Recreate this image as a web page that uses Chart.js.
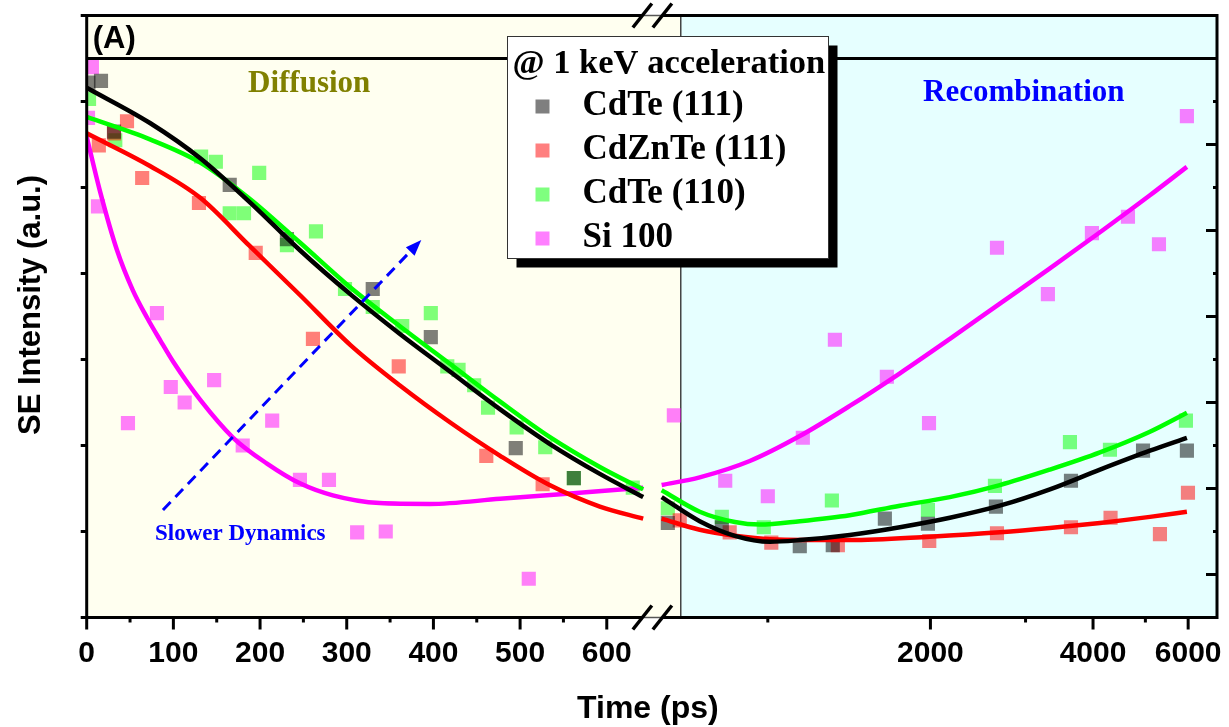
<!DOCTYPE html>
<html>
<head>
<meta charset="utf-8">
<title>SE intensity vs time</title>
<script src="https://cdn.jsdelivr.net/npm/chart.js@4.4.0/dist/chart.umd.min.js"></script>
<style>
  html, body { margin: 0; padding: 0; background: #ffffff; }
  #wrap { width: 1229px; height: 727px; }
</style>
</head>
<body>
<div id="wrap"><canvas id="sechart" width="1229" height="727"></canvas></div>
<script>
// axis ticks
var earlyTicks = [0, 100, 200, 300, 400, 500, 600];
var earlyMinorTicks = [50, 150, 250, 350, 450, 550];
var lateTicks = [2000, 4000, 6000];
var lateMinorTicks = [1000, 3000, 5000];
var leftAxisTicks = [0, 1, 2, 3, 4, 5, 6, 7];
var rightAxisMajor = [0.5, 1.5, 2.5, 3.5, 4.5, 5.5];
var rightAxisMinor = [1, 2, 3, 4, 5, 6];

var earlyMax = 652;
var lateMin = 610;
var lateMax = 6785;
var phaseBoundary = 690;
var bandLevel = 6.5;

var seriesNames = ['CdTe (111)', 'CdZnTe (111)', 'CdTe (110)', 'Si 100'];
var markerColours = ['rgba(0,0,0,0.5)', 'rgba(255,0,0,0.5)', 'rgba(0,255,0,0.5)', 'rgba(255,0,255,0.5)'];
var lineColours = ['#000000', '#ff0000', '#00ff00', '#ff00ff'];

// measured points, [time ps, SE intensity]
var cdte111Early = [[2,6.22],[16.5,6.24],[31.5,5.65],[165,5.03],[231,4.40],[330,3.82],[397,3.26],[495,1.97],[562,1.62]];
var cdte111Late = [[653,1.10],[822,1.05],[1146,0.83],[1319,0.84],[1647,1.15],[1979,1.09],[2644,1.29],[3641,1.59],[4950,1.94],[5968,1.94]];

var cdznteEarly = [[14,5.49],[31.5,5.63],[46.5,5.77],[64,5.11],[129.5,4.82],[195,4.24],[261,3.24],[360,2.92],[461,1.88],[526,1.55]];
var cdznteLate = [[687,1.13],[850,0.99],[1015,0.87],[1348,0.84],[1990,0.89],[2656,0.98],[3641,1.05],[4310,1.16],[5320,0.97],[5995,1.45]];

var cdte110Early = [[2.7,6.03],[33,5.55],[132,5.36],[149,5.30],[199,5.17],[165,4.70],[181.5,4.70],[231,4.33],[264.5,4.49],[298,3.82],[330,3.61],[364,3.39],[397,3.54],[416,2.92],[429,2.88],[447,2.70],[463,2.44],[496,2.21],[529,1.98],[562,1.62],[630,1.51]];
var cdte110Late = [[653,1.27],[822,1.17],[983,1.05],[1314,1.36],[1979,1.25],[2633,1.53],[3625,2.04],[4299,1.95],[5943,2.29]];

var si100Early = [[6,6.40],[1.5,5.81],[13,4.78],[81,3.54],[47.6,2.26],[97,2.68],[113,2.50],[147,2.76],[180,2.00],[214,2.29],[246,1.60],[279.5,1.60],[312,0.99],[345,1.00],[510,0.45]];
var si100Late = [[670,2.35],[834,1.59],[1000,1.41],[1161,2.09],[1331,3.23],[1661,2.80],[1988,2.26],[2656,4.30],[3300,3.76],[3981,4.47],[4642,4.66],[5298,4.34],[5968,5.83]];

// fitted curves
var cdte111FitEarly = [[0,6.16],[73,5.75],[131,5.34],[188,4.83],[246,4.27],[304,3.76],[361,3.30],[419,2.86],[477,2.42],[534,2.02],[592,1.67],[642,1.40]];
var cdte111FitLate = [[636,1.40],[748,1.12],[869,0.95],[1009,0.88],[1146,0.90],[1418,0.96],[1756,1.05],[2173,1.16],[2689,1.30],[3328,1.49],[4120,1.72],[5098,1.94],[5968,2.09]];

var cdznteFitEarly = [[0,5.63],[73,5.25],[131,4.88],[188,4.32],[246,3.75],[304,3.17],[361,2.70],[419,2.27],[477,1.88],[534,1.54],[592,1.29],[642,1.15]];
var cdznteFitLate = [[636,1.15],[748,1.02],[869,0.95],[1009,0.91],[1418,0.90],[1995,0.94],[2689,0.99],[3328,1.04],[4120,1.10],[5098,1.17],[5968,1.23]];

var cdte110FitEarly = [[0,5.82],[73,5.56],[131,5.29],[188,4.87],[246,4.36],[304,3.84],[361,3.39],[419,2.95],[477,2.51],[534,2.10],[592,1.75],[642,1.49]];
var cdte110FitLate = [[636,1.48],[748,1.23],[869,1.11],[966,1.08],[1146,1.12],[1418,1.19],[1756,1.30],[2173,1.40],[2689,1.54],[3328,1.72],[4120,1.92],[5098,2.16],[5968,2.38]];

var si100FitEarly = [[0,5.59],[15,4.97],[35,4.27],[53,3.81],[70,3.48],[85,3.22],[100,2.97],[131,2.53],[169,2.09],[208,1.79],[246,1.56],[284,1.42],[338,1.33],[396,1.32],[477,1.38],[554,1.44],[642,1.51]];
var si100FitLate = [[636,1.54],[748,1.63],[926,1.82],[1146,2.11],[1418,2.46],[1756,2.84],[2173,3.24],[2689,3.65],[3328,4.06],[4120,4.48],[5098,4.91],[5968,5.24]];

// annotation arrow, [time ps, intensity]
var arrowFrom = [88, 1.25];
var arrowTo = [386, 4.39];

var fontSans = "'Liberation Sans', Arial, sans-serif";
var fontSerif = "'Liberation Serif', 'Times New Roman', serif";

function toXY(pairs) {
    return pairs.map(function(p){ return {x: p[0], y: p[1]}; });
}

function scatterSet(i, data, axis) {
    return {
        type: 'scatter', label: seriesNames[i], data: toXY(data),
        xAxisID: axis, yAxisID: 'y',
        pointStyle: 'rect', pointRadius: 10, pointHoverRadius: 10,
        pointBackgroundColor: markerColours[i], backgroundColor: markerColours[i],
        pointBorderWidth: 0, borderWidth: 0, order: 2
    };
}

function fitSet(i, data, axis) {
    return {
        type: 'line', label: seriesNames[i] + ' fit', data: toXY(data),
        xAxisID: axis, yAxisID: 'y',
        borderColor: lineColours[i], borderWidth: 4.5,
        pointRadius: 0, pointHoverRadius: 0, fill: false,
        cubicInterpolationMode: 'monotone', order: 1
    };
}

var datasets = [
    fitSet(0, cdte111FitEarly, 'x'), fitSet(0, cdte111FitLate, 'x2'),
    fitSet(2, cdte110FitEarly, 'x'), fitSet(2, cdte110FitLate, 'x2'),
    fitSet(1, cdznteFitEarly, 'x'), fitSet(1, cdznteFitLate, 'x2'),
    fitSet(3, si100FitEarly, 'x'), fitSet(3, si100FitLate, 'x2'),
    scatterSet(0, cdte111Early, 'x'), scatterSet(0, cdte111Late, 'x2'),
    scatterSet(1, cdznteEarly, 'x'), scatterSet(1, cdznteLate, 'x2'),
    scatterSet(2, cdte110Early, 'x'), scatterSet(2, cdte110Late, 'x2'),
    scatterSet(3, si100Early, 'x'), scatterSet(3, si100Late, 'x2')
];

function seg(ctx, x0, y0, x1, y1) {
    ctx.beginPath();
    ctx.moveTo(x0, y0);
    ctx.lineTo(x1, y1);
    ctx.stroke();
}

function label(ctx, str, x, y, font, colour, align) {
    ctx.font = font;
    ctx.fillStyle = colour;
    ctx.textAlign = align || 'left';
    ctx.textBaseline = 'alphabetic';
    ctx.fillText(str, x, y);
}

var shading = {
    id: 'shading',
    beforeDatasetsDraw: function(chart) {
        var ctx = chart.ctx, a = chart.chartArea;
        var edge = chart.scales.x2.getPixelForValue(phaseBoundary);
        ctx.save();
        ctx.fillStyle = '#fffff0';
        ctx.fillRect(a.left, a.top, edge - a.left, a.bottom - a.top);
        ctx.fillStyle = '#e6ffff';
        ctx.fillRect(edge, a.top, a.right - edge, a.bottom - a.top);
        ctx.strokeStyle = '#444444';
        ctx.lineWidth = 1.5;
        seg(ctx, edge, a.top, edge, a.bottom);
        ctx.restore();
    }
};

var decorations = {
    id: 'decorations',
    afterDraw: function(chart) {
        var ctx = chart.ctx, a = chart.chartArea;
        var xs = chart.scales.x, xl = chart.scales.x2, ys = chart.scales.y;
        var split = xs.right;
        ctx.save();
        ctx.strokeStyle = '#000000';
        ctx.lineCap = 'butt';

        // band line near the top
        ctx.lineWidth = 3;
        var yb = ys.getPixelForValue(bandLevel);
        seg(ctx, a.left, yb, a.right, yb);

        // frame with the axis break
        seg(ctx, a.left, a.top - 1.5, a.left, a.bottom + 1.5);
        seg(ctx, a.right, a.top - 1.5, a.right, a.bottom + 1.5);
        [a.top, a.bottom].forEach(function(yy){
            ctx.lineWidth = 3;
            ctx.strokeStyle = '#000000';
            seg(ctx, a.left, yy, split - 9.5, yy);
            seg(ctx, split + 10.5, yy, a.right, yy);
            ctx.lineWidth = 1.5;
            ctx.strokeStyle = '#555555';
            seg(ctx, split - 9.5, yy, split + 10.5, yy);
            ctx.strokeStyle = '#000000';
            ctx.lineWidth = 3.5;
            seg(ctx, split - 19, yy + 12, split, yy - 12);
            seg(ctx, split + 1, yy + 12, split + 20, yy - 12);
        });

        // ticks
        ctx.lineWidth = 3;
        ctx.strokeStyle = '#000000';
        earlyTicks.forEach(function(v){ var px = xs.getPixelForValue(v); seg(ctx, px, a.bottom, px, a.bottom + 12); });
        earlyMinorTicks.forEach(function(v){ var px = xs.getPixelForValue(v); seg(ctx, px, a.bottom, px, a.bottom + 5); });
        lateTicks.forEach(function(v){ var px = xl.getPixelForValue(v); seg(ctx, px, a.bottom, px, a.bottom + 12); });
        lateMinorTicks.forEach(function(v){ var px = xl.getPixelForValue(v); seg(ctx, px, a.bottom, px, a.bottom + 5); });
        leftAxisTicks.forEach(function(v){ var py = ys.getPixelForValue(v); seg(ctx, a.left - 6, py, a.left, py); });
        rightAxisMajor.forEach(function(v){ var py = ys.getPixelForValue(v); seg(ctx, a.right - 11, py, a.right, py); });
        rightAxisMinor.forEach(function(v){ var py = ys.getPixelForValue(v); seg(ctx, a.right - 4, py, a.right, py); });

        // dashed arrow
        var x0 = xs.getPixelForValue(arrowFrom[0]), y0 = ys.getPixelForValue(arrowFrom[1]);
        var x1 = xs.getPixelForValue(arrowTo[0]), y1 = ys.getPixelForValue(arrowTo[1]);
        var ang = Math.atan2(y1 - y0, x1 - x0);
        ctx.strokeStyle = '#0000ff';
        ctx.fillStyle = '#0000ff';
        ctx.lineWidth = 3;
        ctx.setLineDash([11, 7]);
        seg(ctx, x0, y0, x1 - 12 * Math.cos(ang), y1 - 12 * Math.sin(ang));
        ctx.setLineDash([]);
        ctx.beginPath();
        ctx.moveTo(x1, y1);
        ctx.lineTo(x1 - 16 * Math.cos(ang) + 6 * Math.sin(ang), y1 - 16 * Math.sin(ang) - 6 * Math.cos(ang));
        ctx.lineTo(x1 - 16 * Math.cos(ang) - 6 * Math.sin(ang), y1 - 16 * Math.sin(ang) + 6 * Math.cos(ang));
        ctx.closePath();
        ctx.fill();

        // texts
        label(ctx, '(A)', a.left + 6, a.top + 32, 'bold 31px ' + fontSans, '#000000');
        label(ctx, 'Diffusion', 248, 92, 'bold 31px ' + fontSerif, '#808000');
        label(ctx, 'Recombination', 923, 101, 'bold 31px ' + fontSerif, '#0000ff');
        label(ctx, 'Slower Dynamics', 155, 540, 'bold 23px ' + fontSerif, '#0000ff');
        label(ctx, 'Time (ps)', (a.left + a.right) / 2 - 4, 718, 'bold 32px ' + fontSans, '#000000', 'center');
        ctx.save();
        ctx.translate(40, 305);
        ctx.rotate(-Math.PI / 2);
        label(ctx, 'SE Intensity (a.u.)', 0, 0, 'bold 31px ' + fontSans, '#000000', 'center');
        ctx.restore();

        // legend box with shadow
        var lx = 507.5, ly = 36.5, lw = 321, lh = 222;
        ctx.fillStyle = '#000000';
        ctx.fillRect(lx + 9, ly + 9, lw, lh);
        ctx.fillStyle = '#ffffff';
        ctx.fillRect(lx, ly, lw, lh);
        ctx.strokeStyle = '#333333';
        ctx.lineWidth = 1;
        ctx.strokeRect(lx, ly, lw, lh);
        label(ctx, '@ 1 keV acceleration', lx + 5, ly + 36, 'bold 34.5px ' + fontSerif, '#000000');
        for (var i = 0; i < seriesNames.length; i++) {
            var cy = ly + 70 + 44 * i;
            ctx.fillStyle = markerColours[i];
            ctx.fillRect(lx + 28, cy - 7, 14, 14);
            label(ctx, seriesNames[i], lx + 75, cy + 8, 'bold 35px ' + fontSerif, '#000000');
        }
        ctx.restore();
    }
};

var tickFont = {family: fontSans, size: 30, weight: 'bold'};

function fixAxisBox(s) {
    s.height = 109.5;
    s.paddingLeft = 0;
    s.paddingRight = 0;
}

var chart = new Chart(document.getElementById('sechart').getContext('2d'), {
    type: 'scatter',
    data: { datasets: datasets },
    options: {
        responsive: false,
        animation: false,
        devicePixelRatio: 1,
        layout: { padding: { left: 86.7, right: 12, top: 15.5, bottom: 0 } },
        plugins: { legend: { display: false }, tooltip: { enabled: false } },
        scales: {
            x: {
                type: 'linear', position: 'bottom', stack: 'time', stackWeight: 1,
                min: 0, max: earlyMax, bounds: 'data',
                afterBuildTicks: function(s){ s.ticks = earlyTicks.map(function(v){ return {value: v}; }); },
                afterFit: fixAxisBox,
                grid: { display: false, drawTicks: true, tickLength: 12 },
                border: { display: false },
                ticks: { autoSkip: false, maxRotation: 0, padding: 6, color: '#000000', font: tickFont,
                         callback: function(v){ return String(v); } }
            },
            x2: {
                type: 'logarithmic', position: 'bottom', stack: 'time', stackWeight: 1,
                min: lateMin, max: lateMax, bounds: 'data',
                afterBuildTicks: function(s){ s.ticks = lateTicks.map(function(v){ return {value: v}; }); },
                afterFit: fixAxisBox,
                grid: { display: false, drawTicks: true, tickLength: 12 },
                border: { display: false },
                ticks: { autoSkip: false, maxRotation: 0, padding: 6, color: '#000000', font: tickFont,
                         callback: function(v){ return String(v); } }
            },
            y: { display: false, min: 0, max: 7 }
        }
    },
    plugins: [shading, decorations]
});
</script>
</body>
</html>
